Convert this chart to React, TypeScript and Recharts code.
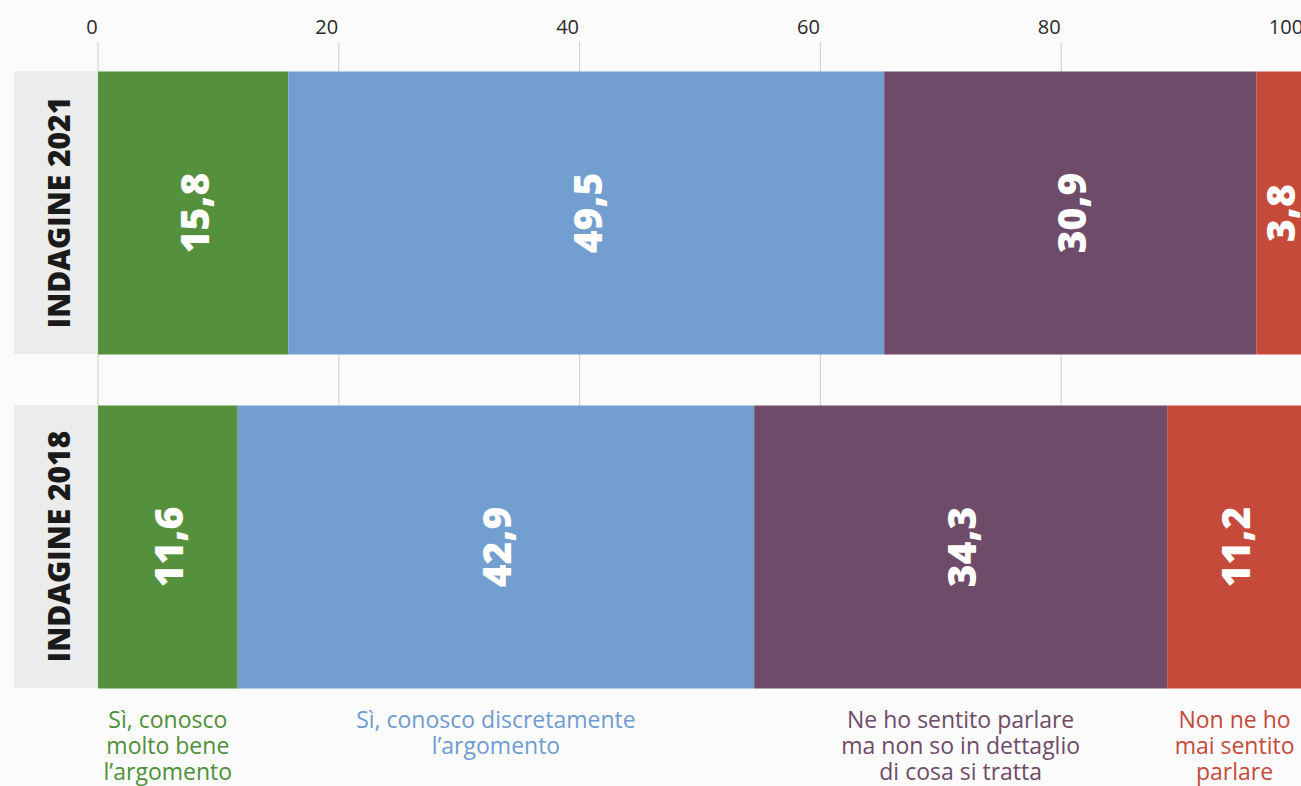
import React from 'react';
import {BarChart, Bar, XAxis, YAxis, CartesianGrid, LabelList} from 'recharts';

// survey years (one bar each)
const categories: string[] = ['INDAGINE 2021', 'INDAGINE 2018'];

// percentages per answer, same order as categories
const moltoBene: number[] = [15.8, 11.6];
const discretamente: number[] = [49.5, 42.9];
const sentitoParlare: number[] = [30.9, 34.3];
const maiSentito: number[] = [3.8, 11.2];

const xTicks: number[] = [0, 20, 40, 60, 80, 100];

const seriesKeys = ['molto', 'discreta', 'sentito', 'mai'];
const seriesColors = ['#55913c', '#739ed0', '#6d4b69', '#c54a3a'];
const legendColors = ['#4f8f3a', '#6f9bd0', '#6d4b69', '#c54a3a'];
const legendLines: string[][] = [
    ['Sì, conosco', 'molto bene', 'l’argomento'],
    ['Sì, conosco discretamente', 'l’argomento'],
    ['Ne ho sentito parlare', 'ma non so in dettaglio', 'di cosa si tratta'],
    ['Non ne ho', 'mai sentito', 'parlare'],
];

const data = categories.map((name, i) => ({
    name,
    molto: moltoBene[i],
    discreta: discretamente[i],
    sentito: sentitoParlare[i],
    mai: maiSentito[i],
}));

const FONT = '"Open Sans", "Noto Sans", sans-serif';
const PLOT_LEFT = 98;
const PLOT_WIDTH = 1204;
const BAR_SIZE = 283;

function CategoryTick(props: any) {
    const {y, payload} = props;
    return (
        <g>
            <rect x={14} y={y - BAR_SIZE / 2} width={84} height={BAR_SIZE} fill="#ececec" />
            <text
                x={58}
                y={y}
                transform={`rotate(-90, 58, ${y})`}
                textAnchor="middle"
                dominantBaseline="central"
                fontFamily={FONT}
                fontWeight={800}
                fontSize={30}
                fill="#1a1a1a"
            >
                {payload.value}
            </text>
        </g>
    );
}

function ValueTick(props: any) {
    const {x, payload} = props;
    const shift = payload.value === 0 ? 6 : 12;
    return (
        <text x={x - shift} y={26} textAnchor="middle" dominantBaseline="central"
              fontFamily={FONT} fontSize={20} fill="#2a2a2a">
            {payload.value}
        </text>
    );
}

function SegmentLabel(props: any) {
    const {x, y, width, height, value} = props;
    const cx = x + width / 2;
    const cy = y + height / 2;
    return (
        <text
            x={cx}
            y={cy}
            transform={`rotate(-90, ${cx}, ${cy})`}
            textAnchor="middle"
            dominantBaseline="central"
            fontFamily={FONT}
            fontWeight={800}
            fontSize={39}
            fill="#ffffff"
        >
            {String(value).replace('.', ',')}
        </text>
    );
}

export default function App() {
    // legend blocks sit under the 2018 segments
    const last = data[data.length - 1] as any;
    let cum = 0;
    const centers = seriesKeys.map((k) => {
        const v = last[k];
        const c = PLOT_LEFT + ((cum + v / 2) / 100) * PLOT_WIDTH;
        cum += v;
        return c;
    });

    return (
        <div style={{position: 'absolute', left: 0, top: 0, width: 1301, height: 786, overflow: 'hidden', background: '#fbfbfb'}}>
            <BarChart
                width={1310}
                height={786}
                data={data}
                layout="vertical"
                margin={{top: 0, right: 8, bottom: 72.5, left: 0}}
            >
                <CartesianGrid horizontal={false} stroke="#cccccc" y={42} height={646} />
                <XAxis
                    type="number"
                    domain={[0, 100]}
                    ticks={xTicks}
                    orientation="top"
                    height={45.5}
                    axisLine={false}
                    tickLine={false}
                    tick={<ValueTick />}
                />
                <YAxis
                    type="category"
                    dataKey="name"
                    width={98}
                    axisLine={false}
                    tickLine={false}
                    tick={<CategoryTick />}
                />
                {seriesKeys.map((k, i) => (
                    <Bar key={k} dataKey={k} stackId="a" fill={seriesColors[i]} barSize={BAR_SIZE} isAnimationActive={false}>
                        <LabelList dataKey={k} content={<SegmentLabel />} />
                    </Bar>
                ))}
            </BarChart>
            {legendLines.map((lines, i) => (
                <div
                    key={i}
                    style={{
                        position: 'absolute',
                        left: centers[i] - 160,
                        top: 706,
                        width: 320,
                        textAlign: 'center',
                        fontFamily: FONT,
                        fontSize: 23,
                        lineHeight: '26px',
                        color: legendColors[i],
                    }}
                >
                    {lines.map((l, j) => <div key={j}>{l}</div>)}
                </div>
            ))}
        </div>
    );
}
